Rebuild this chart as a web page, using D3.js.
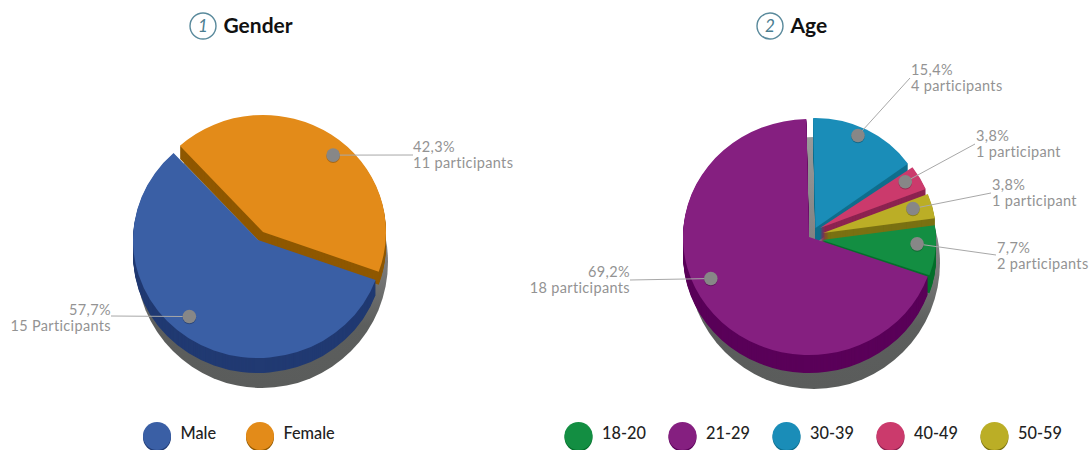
<!DOCTYPE html>
<html>
<head>
<meta charset="utf-8">
<script src="https://cdn.jsdelivr.net/npm/d3@7"></script>
<style>
  html, body { margin: 0; background: #fff; }
  svg { display: block; }
  text { font-family: Lato, "Open Sans", sans-serif; }
</style>
</head>
<body>
<svg id="chart" width="1091" height="450"></svg>
<script>
// Survey answers
const genderCategories = ["Female", "Male"];
const genderCounts = [11, 15];
const genderPercents = ["42,3%", "57,7%"];
const genderUnits = ["11 participants", "15 Participants"];

const ageCategories = ["30-39", "40-49", "50-59", "18-20", "21-29"];
const ageCounts = [4, 1, 1, 2, 18];
const agePercents = ["15,4%", "3,8%", "3,8%", "7,7%", "69,2%"];
const ageUnits = ["4 participants", "1 participant", "1 participant", "2 participants", "18 participants"];

const genderLegend = ["Male", "Female"];
const ageLegend = ["18-20", "21-29", "30-39", "40-49", "50-59"];

// Top and side colours per category
const topColor = {
  Male: "#3a5fa5", Female: "#e38b19",
  "18-20": "#138e42", "21-29": "#851f80", "30-39": "#1a8db8", "40-49": "#cb3a6c", "50-59": "#bbae26"
};
const sideColor = {
  Male: "#213a72", Female: "#8f5800",
  "18-20": "#056f2b", "21-29": "#5a0059", "30-39": "#0f6e8d", "40-49": "#8c2350", "50-59": "#7a7112"
};

// Slice geometry: exploded centre, radii, extrusion depth, dot placement, label anchor
const genderLayout = [
  { cx: 263, cy: 232, rx: 123, ry: 117, depth: 13, dotShift: 7.3, dotR: 0.87, lx: 413, ly: 152, side: "start", endX: 413, endY: 155 },
  { cx: 258, cy: 240, rx: 125, ry: 118, depth: 15, dotShift: 6.6, dotR: 0.85, lx: 111, ly: 315, side: "end", endX: 111, endY: 316 }
];
const ageLayout = [
  { cx: 815.5, cy: 228, rx: 114, ry: 110, depth: 15, dotShift: -2.6, dotR: 0.92, lx: 911, ly: 75, side: "start", endX: 910, endY: 78 },
  { cx: 820, cy: 228, rx: 114, ry: 104, depth: 15, dotShift: -1.8, dotR: 0.87, lx: 976, ly: 141, side: "start", endX: 975, endY: 144 },
  { cx: 823, cy: 233, rx: 113, ry: 104, depth: 15, dotShift: -1.4, dotR: 0.83, lx: 992, ly: 190, side: "start", endX: 991, endY: 193 },
  { cx: 822, cy: 240, rx: 114, ry: 105, depth: 18, dotShift: -3.2, dotR: 0.835, lx: 997, ly: 253, side: "start", endX: 996, endY: 255 },
  { cx: 809, cy: 237, rx: 126, ry: 118, depth: 18, dotShift: 11.5, dotR: 0.855, lx: 630, ly: 277, side: "end", endX: 630, endY: 280 }
];

const svg = d3.select("#chart");
const deg = Math.PI / 180;

const defs = svg.append("defs");
const shadowGrad = defs.append("linearGradient")
  .attr("id", "dropShade").attr("x1", 0).attr("y1", 0).attr("x2", 0).attr("y2", 1);
shadowGrad.append("stop").attr("offset", "0%").attr("stop-color", "#9a9a9a");
shadowGrad.append("stop").attr("offset", "50%").attr("stop-color", "#7c7c7c");
shadowGrad.append("stop").attr("offset", "75%").attr("stop-color", "#5c5e5d");
shadowGrad.append("stop").attr("offset", "100%").attr("stop-color", "#5a5c5b");

function drawPie(categories, counts, percents, units, layout, startDeg, shadow) {
  const pie = d3.pie().sort(null).startAngle(startDeg * deg).endAngle((startDeg + 360) * deg);
  const arcs = pie(counts);
  const g = svg.append("g");

  g.append("circle")
    .attr("cx", shadow.cx).attr("cy", shadow.cy).attr("r", shadow.r)
    .attr("fill", "url(#dropShade)");

  arcs.forEach((a, i) => {
    const s = layout[i];
    const cat = categories[i];
    const arc = d3.arc().innerRadius(0).outerRadius(s.rx);
    const squash = s.ry / s.rx;

    // extruded side, built from stacked copies of the slice
    g.append("g").selectAll("path").data(d3.range(s.depth, 0, -1)).join("path")
      .attr("transform", k => `translate(${s.cx},${s.cy + k}) scale(1,${squash})`)
      .attr("d", arc(a))
      .attr("fill", sideColor[cat]);

    g.append("path")
      .attr("transform", `translate(${s.cx},${s.cy}) scale(1,${squash})`)
      .attr("d", arc(a))
      .attr("fill", topColor[cat]);
  });

  // leader lines, dots and labels stay above every slice
  arcs.forEach((a, i) => {
    const s = layout[i];
    const mid = (a.startAngle + a.endAngle) / 2 + s.dotShift * deg;
    const x = s.cx + s.rx * s.dotR * Math.sin(mid);
    const y = s.cy - s.ry * s.dotR * Math.cos(mid);

    g.append("line")
      .attr("x1", x).attr("y1", y).attr("x2", s.endX).attr("y2", s.endY)
      .attr("stroke", "#a8a8a8").attr("stroke-width", 1);
    g.append("circle").attr("cx", x).attr("cy", y + 1).attr("r", 6.8).attr("fill", "#000").attr("opacity", 0.25);
    g.append("circle").attr("cx", x).attr("cy", y).attr("r", 6.8).attr("fill", "#878787");

    const label = g.append("text")
      .attr("text-anchor", s.side).attr("fill", "#939393").attr("font-size", 14.5).attr("letter-spacing", 0.35);
    label.append("tspan").attr("x", s.lx).attr("y", s.ly).text(percents[i]);
    label.append("tspan").attr("x", s.lx).attr("y", s.ly + 15.5).text(units[i]);
  });
}

function drawTitle(cx, number, title) {
  svg.append("circle").attr("cx", cx).attr("cy", 26).attr("r", 13)
    .attr("fill", "none").attr("stroke", "#5a8a9c").attr("stroke-width", 1.4);
  svg.append("text").attr("x", cx).attr("y", 32).attr("text-anchor", "middle")
    .attr("font-size", 17).attr("font-style", "italic").attr("fill", "#4a7d90").text(number);
  svg.append("text").attr("x", cx + 20.5).attr("y", 33)
    .attr("font-size", 21).attr("font-weight", 700).attr("fill", "#111").text(title);
}

function drawLegend(names, firstX, stepX) {
  const x = d3.scalePoint().domain(names).range([firstX, firstX + stepX * (names.length - 1)]);
  names.forEach(n => {
    svg.append("circle").attr("cx", x(n)).attr("cy", 437.5).attr("r", 14).attr("fill", sideColor[n]);
    svg.append("circle").attr("cx", x(n)).attr("cy", 436).attr("r", 14).attr("fill", topColor[n]);
    svg.append("text").attr("x", x(n) + 23.5).attr("y", 439)
      .attr("font-size", 16.3).attr("font-weight", 500).attr("fill", "#222").text(n);
  });
}

drawTitle(203, "1", "Gender");
drawTitle(770, "2", "Age");

drawPie(genderCategories, genderCounts, genderPercents, genderUnits, genderLayout, -42.5, { cx: 262, cy: 262, r: 126 });
drawPie(ageCategories, ageCounts, agePercents, ageUnits, ageLayout, -1.2, { cx: 814, cy: 263, r: 126 });

drawLegend(genderLegend, 157, 103);
drawLegend(ageLegend, 578.5, 104);
</script>
</body>
</html>
